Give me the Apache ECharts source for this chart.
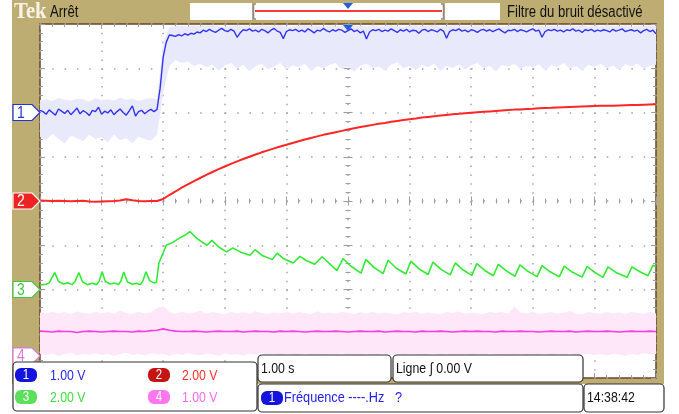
<!DOCTYPE html>
<html><head><meta charset="utf-8">
<script src="https://cdn.jsdelivr.net/npm/echarts@6/dist/echarts.min.js"></script>
<style>html,body{margin:0;padding:0;background:#fff}#c{width:679px;height:414px}</style>
</head><body><div id="c"></div>
<script>
// ---------------- DATA (volts) ----------------
const ch1Step = 0.05;          // s between ch1 trace samples
const envStep = 0.1;           // s between samples of the other sampled arrays
const ch1Trace = [
 0.05,0.02,-0.04,0.06,0.00,-0.06,0.08,0.03,-0.02,0.05,-0.05,0.02,0.10,-0.03,0.04,0.00,-0.07,0.05,0.02,0.12,
 -0.04,0.03,-0.01,0.06,-0.05,0.02,0.08,0.00,-0.06,0.04,0.15,-0.08,0.02,0.05,-0.03,0.03,0.07,0.02,
 0.07,0.55,1.25,1.59,1.75,
 1.74,1.72,1.76,1.73,1.78,1.75,1.79,1.77,1.82,1.80,
 1.86,1.83,1.88,1.84,1.81,1.86,1.90,1.85,1.83,1.88,
 1.84,1.70,1.80,1.87,1.85,1.89,1.84,1.86,1.82,1.88,
 1.85,1.80,1.86,1.90,1.84,1.81,1.67,1.83,1.87,1.85,
 1.88,1.83,1.86,1.82,1.89,1.85,1.80,1.86,1.84,1.90,
 1.85,1.82,1.87,1.84,1.88,1.86,1.81,1.85,1.89,1.83,
 1.86,1.80,1.84,1.66,1.82,1.87,1.85,1.88,1.83,1.86,
 1.84,1.89,1.85,1.81,1.87,1.84,1.88,1.82,1.86,1.85,
 1.79,1.86,1.88,1.83,1.87,1.85,1.82,1.88,1.84,1.68,
 1.83,1.87,1.85,1.89,1.84,1.86,1.82,1.87,1.85,1.81,
 1.86,1.88,1.84,1.87,1.83,1.86,1.89,1.84,1.80,1.86,
 1.85,1.88,1.83,1.87,1.85,1.82,1.86,1.89,1.84,1.86,
 1.70,1.83,1.87,1.85,1.88,1.84,1.86,1.82,1.87,1.85,
 1.89,1.84,1.86,1.81,1.87,1.85,1.88,1.83,1.86,1.84,
 1.87,1.85,1.82,1.88,1.84,1.86,1.89,1.83,1.85,1.87,
 1.84,1.86,1.80,1.85,1.88,1.83,1.86,1.78
];
const ch1EnvHi = [
 0.28,0.30,0.26,0.33,0.29,0.27,0.31,0.30,0.25,0.32,0.28,0.30,0.27,0.34,0.29,0.31,0.26,0.30,0.33,0.30,
 1.60,1.92,
 1.95,1.96,1.94,1.97,1.95,1.96,1.98,1.95,1.94,1.96,
 1.97,1.95,1.96,1.94,1.98,1.95,1.96,1.97,1.95,1.94,
 1.96,1.98,1.95,1.96,1.94,1.97,1.95,1.96,1.98,1.95,
 1.96,1.94,1.97,1.95,1.96,1.98,1.95,1.94,1.96,1.97,
 1.95,1.96,1.98,1.94,1.95,1.97,1.96,1.95,1.94,1.98,
 1.96,1.95,1.97,1.94,1.96,1.95,1.98,1.96,1.95,1.97,
 1.94,1.96,1.95,1.98,1.96,1.95,1.97,1.94,1.96,1.95,
 1.97,1.96,1.95,1.98,1.94,1.96,1.95,1.97,1.96
];
const ch1EnvLo = [
 -0.55,-0.62,-0.48,-0.60,-0.70,-0.52,-0.58,-0.65,-0.50,-0.60,-0.56,-0.68,-0.50,-0.62,-0.58,-0.70,-0.54,-0.60,-0.64,-0.50,
 0.45,1.05,
 1.18,1.12,1.15,1.05,1.10,1.02,1.08,0.95,1.06,1.12,
 1.00,1.08,0.93,1.05,1.10,0.98,1.04,1.12,0.96,1.06,
 1.02,1.10,0.94,1.05,1.00,1.08,1.12,0.97,1.04,0.92,
 1.06,1.10,1.00,1.04,0.95,1.08,1.13,1.00,1.05,0.96,
 1.08,1.02,1.11,0.94,1.05,1.00,1.09,0.97,1.06,1.12,
 1.00,1.05,0.93,1.08,1.03,1.10,0.98,1.06,1.01,1.09,
 0.95,1.07,1.02,1.12,0.99,1.05,0.94,1.08,1.03,1.10,
 1.00,1.06,0.96,1.09,1.04,1.11,0.98,1.05,1.08
];
const ch2Trace = [
 0.02,0.01,0.00,0.01,0.00,-0.01,0.00,0.01,-0.02,-0.03,-0.02,-0.01,0.00,0.02,0.08,0.03,0.00,-0.01,0.00,0.00,
 0.09,0.27,0.43,0.60,0.75,0.90,1.04,1.18,1.31,1.44,
 1.56,1.68,1.79,1.90,2.00,2.10,2.20,2.29,2.38,2.46,
 2.54,2.62,2.70,2.78,2.85,2.92,2.99,3.05,3.11,3.17,
 3.23,3.29,3.34,3.39,3.44,3.49,3.53,3.58,3.62,3.66,
 3.70,3.73,3.77,3.80,3.83,3.86,3.89,3.92,3.94,3.97,
 3.99,4.01,4.03,4.05,4.07,4.09,4.11,4.13,4.14,4.16,
 4.17,4.19,4.20,4.21,4.23,4.24,4.25,4.26,4.27,4.28,
 4.29,4.30,4.31,4.31,4.32,4.33,4.34,4.34,4.35,4.36,
 4.37
];
// ch3: vertices of the sawtooth (time in s, value in V)
const ch3Time = [
 0.00,0.10,0.15,0.24,0.30,0.38,0.45,0.52,0.57,0.63,0.69,0.77,0.85,0.92,0.96,1.01,1.06,1.14,1.21,1.27,
 1.31,1.36,1.42,1.50,1.57,1.63,1.67,1.72,1.78,1.85,1.89,
 1.93,2.05,2.15,2.25,2.35,2.43,
 2.55,2.71,2.79,2.90,3.03,3.13,3.25,3.41,3.49,3.60,3.77,3.85,3.95,4.11,4.22,4.33,4.46,4.58,4.68,4.82,
 4.92,5.05,5.21,5.29,5.42,5.57,5.65,5.78,5.94,6.02,6.15,6.30,6.38,6.51,6.66,6.74,6.87,7.01,7.09,
 7.22,7.36,7.44,7.57,7.71,7.79,7.92,8.07,8.15,8.28,8.43,8.51,8.64,8.80,8.88,9.00,9.14,9.22,9.35,
 9.53,9.61,9.74,9.87,9.95,10.00
];
const ch3Volt = [
 0.20,0.24,0.30,0.77,0.36,0.25,0.30,0.22,0.36,0.77,0.35,0.22,0.28,0.22,0.38,0.80,0.36,0.25,0.29,0.22,
 0.36,0.79,0.34,0.24,0.28,0.22,0.38,0.80,0.40,0.30,0.33,
 1.20,2.00,2.12,2.30,2.45,2.62,
 2.30,2.00,2.22,1.92,1.70,1.88,1.70,1.55,1.80,1.55,1.35,1.64,1.40,1.20,1.50,1.30,1.14,1.48,1.22,0.85,
 1.40,1.05,0.74,1.36,1.00,0.72,1.32,0.97,0.70,1.28,0.94,0.68,1.24,0.91,0.66,1.20,0.88,0.64,1.17,
 0.86,0.62,1.14,0.84,0.60,1.11,0.82,0.58,1.08,0.80,0.57,1.06,0.79,0.56,1.04,0.78,0.55,1.02,0.77,
 0.55,1.02,0.80,0.62,1.10,1.02
];
const ch4Trace = [
 0.56,0.55,0.54,0.56,0.55,0.55,0.53,0.55,0.56,0.55,
 0.54,0.55,0.56,0.55,0.55,0.54,0.56,0.55,0.57,0.58,
 0.61,0.58,0.56,0.55,0.55,0.56,0.55,0.54,0.55,0.56,
 0.55,0.55,0.56,0.54,0.55,0.56,0.55,0.55,0.54,0.56,
 0.55,0.56,0.55,0.54,0.55,0.56,0.55,0.55,0.56,0.55,
 0.54,0.55,0.56,0.55,0.55,0.56,0.54,0.55,0.56,0.55,
 0.55,0.54,0.56,0.55,0.55,0.56,0.55,0.54,0.55,0.56,
 0.55,0.56,0.55,0.55,0.54,0.56,0.55,0.55,0.56,0.55,
 0.55,0.54,0.55,0.56,0.55,0.55,0.56,0.54,0.55,0.56,
 0.55,0.55,0.56,0.55,0.54,0.55,0.56,0.55,0.55,0.56,
 0.55
];
const ch4EnvHi = [
 0.98,0.95,1.00,0.96,0.99,0.94,1.01,0.97,0.95,1.00,
 0.96,0.99,0.95,1.02,0.97,0.94,1.00,0.96,0.98,1.08,
 1.12,0.99,0.95,1.00,0.96,0.98,1.02,0.95,0.99,0.97,
 0.94,1.00,0.96,0.99,0.95,1.01,0.97,0.94,0.98,0.96,
 1.00,0.95,0.99,0.97,0.94,1.01,0.96,0.98,0.95,1.00,
 0.97,0.94,0.99,0.96,1.00,0.95,0.98,0.96,0.94,0.99,
 0.97,1.00,0.95,0.98,0.96,0.94,0.99,0.97,1.01,0.95,
 0.98,0.96,0.94,1.00,0.97,0.99,0.95,1.12,0.98,0.96,
 1.00,0.94,0.97,0.99,0.95,0.98,1.01,0.96,0.94,0.99,
 0.97,0.95,1.00,0.96,0.98,0.94,0.99,0.97,0.95,1.00,
 0.96
];
const ch4EnvLo = [
 0.05,0.02,0.06,0.00,0.04,0.07,0.01,0.05,0.03,0.06,
 0.02,0.05,0.00,0.04,0.07,0.02,0.05,0.01,0.06,0.03,
 0.04,0.00,0.05,0.02,0.06,0.03,0.01,0.05,0.04,0.00,
 0.06,0.02,0.04,0.01,0.05,0.03,0.07,0.02,0.04,0.00,
 0.05,0.03,0.01,0.06,0.02,0.04,0.00,0.05,0.03,0.06,
 0.01,0.04,0.02,0.05,0.00,0.03,0.06,0.02,0.04,0.01,
 0.05,0.03,0.00,0.04,0.06,0.02,0.05,0.01,0.03,0.04,
 0.00,0.05,0.02,0.06,0.03,0.01,0.04,0.02,0.05,0.00,
 -0.15,0.03,0.05,0.01,0.04,0.02,0.06,0.00,0.03,0.05,
 0.02,0.04,0.01,0.05,0.03,0.00,0.04,0.02,0.06,0.03,
 0.04
];
// channel settings: volts per division and ground position (in divisions from centre)
const chNames = ['1','2','3','4'];
const chVoltsPerDiv = [1, 2, 2, 1];
const chGroundDiv = [2, 0, -2, -3.5];
const chScaleLabels = ['1.00 V','2.00 V','2.00 V','1.00 V'];
const secondsPerDiv = 1;
const timebaseLabel = '1.00 s';
const triggerLabel = 'Ligne ∫ 0.00 V';
const freqLabel = 'Fréquence ----.Hz   ?';
const clockLabel = '14:38:42';
const statusLabel = 'Arrêt';
const filterLabel = 'Filtre du bruit désactivé';

// ---------------- STYLE ----------------
const TAN = '#bead72';
const NARROW = "'Liberation Sans Narrow','Liberation Sans',Arial,sans-serif";
const SQUEEZE = 0.82;
const GRIDC = '#a4a4b0';
const G = {left: 40, top: 24, width: 616, height: 354};
const colors = {
  c1: '#3434f0', c1env: '#e9e9fc', c2: '#ff2626', c3: '#33ea33', c4: '#ff3ae0', c4env: '#fde7f8'
};

const chart = echarts.init(document.getElementById('c'), null, {renderer: 'canvas'});

function pairs(arr, step) { return arr.map((v, i) => [+(i * step).toFixed(3), v]); }

function chAxis(i) {
  const v = chVoltsPerDiv[i], g = chGroundDiv[i];
  return {type: 'value', show: false, min: (-4 - g) * v, max: (4 - g) * v,
          axisLine: {onZero: false}, splitLine: {show: false}};
}
function bandSeries(lo, hi, step, yIdx, fill) {
  const data = lo.map((v, i) => [+(i * step).toFixed(3), v, hi[i]]);
  return {
    type: 'custom', xAxisIndex: 0, yAxisIndex: yIdx, silent: true, z: 1,
    data: data, encode: {x: 0, y: [1, 2]},
    clip: true,
    renderItem: function (params, api) {
      if (params.dataIndex !== 0) return null;
      const pts = [];
      for (let k = 0; k < data.length; k++) pts.push(api.coord([data[k][0], data[k][2]]));
      for (let k = data.length - 1; k >= 0; k--) pts.push(api.coord([data[k][0], data[k][1]]));
      return {type: 'polygon', shape: {points: pts}, style: {fill: fill}};
    }
  };
}
const tickStyle = {color: '#9c9cab', width: 1};
function frameX(pos, opts) {
  return Object.assign({
    type: 'value', min: 0, max: 10 * secondsPerDiv, interval: secondsPerDiv, position: pos,
    axisLine: {show: false, onZero: false}, axisLabel: {show: false},
    axisTick: {show: true, inside: true, length: 5, lineStyle: tickStyle},
    minorTick: {show: true, splitNumber: 5, length: 3, lineStyle: tickStyle},
    splitLine: {show: false}
  }, opts || {});
}
function frameY(pos, opts) {
  return Object.assign({
    type: 'value', min: -4, max: 4, interval: 1, position: pos,
    axisLine: {show: false, onZero: false}, axisLabel: {show: false},
    axisTick: {show: true, inside: true, length: 5, lineStyle: tickStyle},
    minorTick: {show: true, splitNumber: 5, length: 3, lineStyle: tickStyle},
    splitLine: {show: false}
  }, opts || {});
}

const option = {
  animation: false,
  backgroundColor: '#ffffff',
  grid: [{left: G.left, top: G.top, width: G.width, height: G.height, show: true,
          backgroundColor: '#ffffff', borderColor: '#6e4424', borderWidth: 1.5}],
  xAxis: [
    frameX('bottom', {splitLine: {show: true, lineStyle: {color: GRIDC, width: 1.5, type: [1.5, 7.35]}}}),
    frameX('top'),
    frameX('bottom', {offset: -G.height / 2, axisTick: {show: true, inside: true, length: 4.5, lineStyle: tickStyle},
                      minorTick: {show: true, splitNumber: 5, length: 2.5, lineStyle: tickStyle}}),
    frameX('bottom', {offset: -G.height / 2, axisTick: {show: true, inside: false, length: 4.5, lineStyle: tickStyle},
                      minorTick: {show: true, splitNumber: 5, length: 2.5, lineStyle: tickStyle}})
  ],
  yAxis: [
    frameY('left', {splitLine: {show: true, lineStyle: {color: GRIDC, width: 1.5, type: [1.5, 10.82]}}}),
    frameY('right'),
    frameY('left', {offset: -G.width / 2, axisTick: {show: true, inside: true, length: 4.5, lineStyle: tickStyle},
                    minorTick: {show: true, splitNumber: 5, length: 2.5, lineStyle: tickStyle}}),
    frameY('left', {offset: -G.width / 2, axisTick: {show: true, inside: false, length: 4.5, lineStyle: tickStyle},
                    minorTick: {show: true, splitNumber: 5, length: 2.5, lineStyle: tickStyle}}),
    chAxis(0), chAxis(1), chAxis(2), chAxis(3)
  ],
  series: [
    bandSeries(ch4EnvLo, ch4EnvHi, envStep, 7, colors.c4env),
    bandSeries(ch1EnvLo, ch1EnvHi, envStep, 4, colors.c1env),
    {type: 'line', name: 'CH4', xAxisIndex: 0, yAxisIndex: 7, data: pairs(ch4Trace, envStep), showSymbol: false,
     lineStyle: {color: colors.c4, width: 1.6}, z: 3},
    {type: 'line', name: 'CH3', xAxisIndex: 0, yAxisIndex: 6, data: ch3Time.map((t, i) => [t, ch3Volt[i]]), showSymbol: false,
     lineStyle: {color: colors.c3, width: 1.6}, z: 4},
    {type: 'line', name: 'CH2', xAxisIndex: 0, yAxisIndex: 5, data: pairs(ch2Trace, envStep), showSymbol: false,
     lineStyle: {color: colors.c2, width: 2}, z: 5},
    {type: 'line', name: 'CH1', xAxisIndex: 0, yAxisIndex: 4, data: pairs(ch1Trace, ch1Step), showSymbol: false,
     lineStyle: {color: colors.c1, width: 1.4}, z: 6}
  ]
};
chart.setOption(option);

// ---------------- decorations (frame, markers, read-outs) ----------------
function txt(x, y, s, fill, size, extra) {
  return Object.assign({type: 'text', z: 120, x: x, y: y, scaleX: SQUEEZE,
    style: {x: 0, y: 0, text: s, fill: fill, font: (size || 13) + 'px ' + NARROW, textVerticalAlign: 'middle'}}, extra || {});
}
function box(x, y, w, h, fill, stroke, r, z) {
  return {type: 'rect', z: z || 110, shape: {x: x, y: y, width: w, height: h, r: r || 0},
          style: {fill: fill, stroke: stroke || null, lineWidth: stroke ? 1.2 : 0}};
}
function badge(x, y, label, fill) {
  return [box(x, y, 22, 14, fill, null, 6, 115),
          {type: 'text', z: 120, x: x + 11, y: y + 7.5, scaleX: SQUEEZE,
           style: {x: 0, y: 0, text: label, fill: '#ffffff',
            font: '14px ' + NARROW, textAlign: 'center', textVerticalAlign: 'middle'}}];
}
const trigX = chart.convertToPixel({xAxisIndex: 0}, 5 * secondsPerDiv);
const g = [];
// tan instrument body
g.push({type: 'rect', z: -10, shape: {x: 12, y: 0, width: 652, height: 384}, style: {fill: TAN}});
// top status bar
g.push({type: 'text', z: 120, x: 14, y: 12, scaleX: 0.9,
  style: {x: 0, y: 0, text: 'Tek', fill: '#f7f3e8',
  font: 'bold 23px "Liberation Serif", "DejaVu Serif", serif', textVerticalAlign: 'middle'}});
g.push(txt(50, 13, statusLabel, '#111111', 16));
g.push(box(190, 3, 62, 17, '#ffffff', null, 0, 100));
g.push(box(253, 3, 191, 17, '#ffffff', null, 0, 100));
g.push(box(445, 3, 55, 17, '#ffffff', null, 0, 100));
g.push({type: 'polyline', z: 105, shape: {points: [[256, 4], [253.5, 4], [253.5, 19], [256, 19]]}, style: {stroke: '#8a8a8a', lineWidth: 1.5, fill: null}});
g.push({type: 'polyline', z: 105, shape: {points: [[441, 4], [443.5, 4], [443.5, 19], [441, 19]]}, style: {stroke: '#8a8a8a', lineWidth: 1.5, fill: null}});
g.push({type: 'line', z: 105, shape: {x1: 255, y1: 11, x2: 442, y2: 11}, style: {stroke: '#ff3b3b', lineWidth: 2}});
g.push({type: 'polygon', z: 106, shape: {points: [[trigX - 5, 3], [trigX + 5, 3], [trigX, 9]]}, style: {fill: '#1f5fe0'}});
g.push(txt(507, 13, filterLabel, '#111111', 16));
// trigger position marker on screen top
g.push({type: 'polygon', z: 106, shape: {points: [[trigX - 5, 25], [trigX + 5, 25], [trigX, 31]]}, style: {fill: '#1f5fe0'}});
// channel ground markers
const markerStyle = [
  {fill: '#ffffff', stroke: '#2233dd', text: '#2233dd'},
  {fill: '#ee2222', stroke: '#ffffff', text: '#ffffff'},
  {fill: '#ffffff', stroke: '#3ccc3c', text: '#3ccc3c'},
  {fill: '#ffffff', stroke: '#dd77dd', text: '#dd77dd'}
];
for (let i = 0; i < 4; i++) {
  const yc = chart.convertToPixel({yAxisIndex: 4 + i}, 0);
  const ms = markerStyle[i];
  g.push({type: 'polygon', z: 104, shape: {points: [[13, yc - 8], [32, yc - 8], [40, yc], [32, yc + 8], [13, yc + 8]]},
          style: {fill: ms.fill, stroke: ms.stroke, lineWidth: 1.2}});
  g.push({type: 'text', z: 105, x: 21, y: yc + 0.5, scaleX: SQUEEZE,
          style: {x: 0, y: 0, text: chNames[i], fill: ms.text,
          font: '17px ' + NARROW, textAlign: 'center', textVerticalAlign: 'middle'}});
}
// bottom read-out panel
g.push(box(13, 362, 244, 49, '#ffffff', '#333333', 4));
const badgeCols = ['#1414dc', '#c41414', '#5ae05a', '#ff77ee'];
const textCols = ['#2a2ae8', '#ff3030', '#3ee03e', '#ff6aee'];
const bx = [15, 148, 15, 148], by = [368, 368, 390, 390], tx = [50, 182, 50, 182];
for (let i = 0; i < 4; i++) {
  g.push(...badge(bx[i], by[i], chNames[i], badgeCols[i]));
  g.push(txt(tx[i], by[i] + 7.5, chScaleLabels[i], textCols[i], 15));
}
g.push(box(258, 355, 133, 27, '#ffffff', '#333333', 4));
g.push(txt(261, 369, timebaseLabel, '#111111', 15));
g.push(box(393, 355, 190, 27, '#ffffff', '#333333', 4));
g.push(txt(396, 369, triggerLabel, '#111111', 15));
g.push(box(258, 384, 325, 28, '#ffffff', '#333333', 4));
g.push(...badge(261, 391, '1', '#1414dc'));
g.push(txt(284, 398, freqLabel, '#2222ee', 15.5));
g.push(box(584, 384, 80, 28, '#ffffff', '#333333', 4));
g.push(txt(587, 398, clockLabel, '#111111', 15));
chart.setOption({graphic: {elements: g}});
</script></body></html>
